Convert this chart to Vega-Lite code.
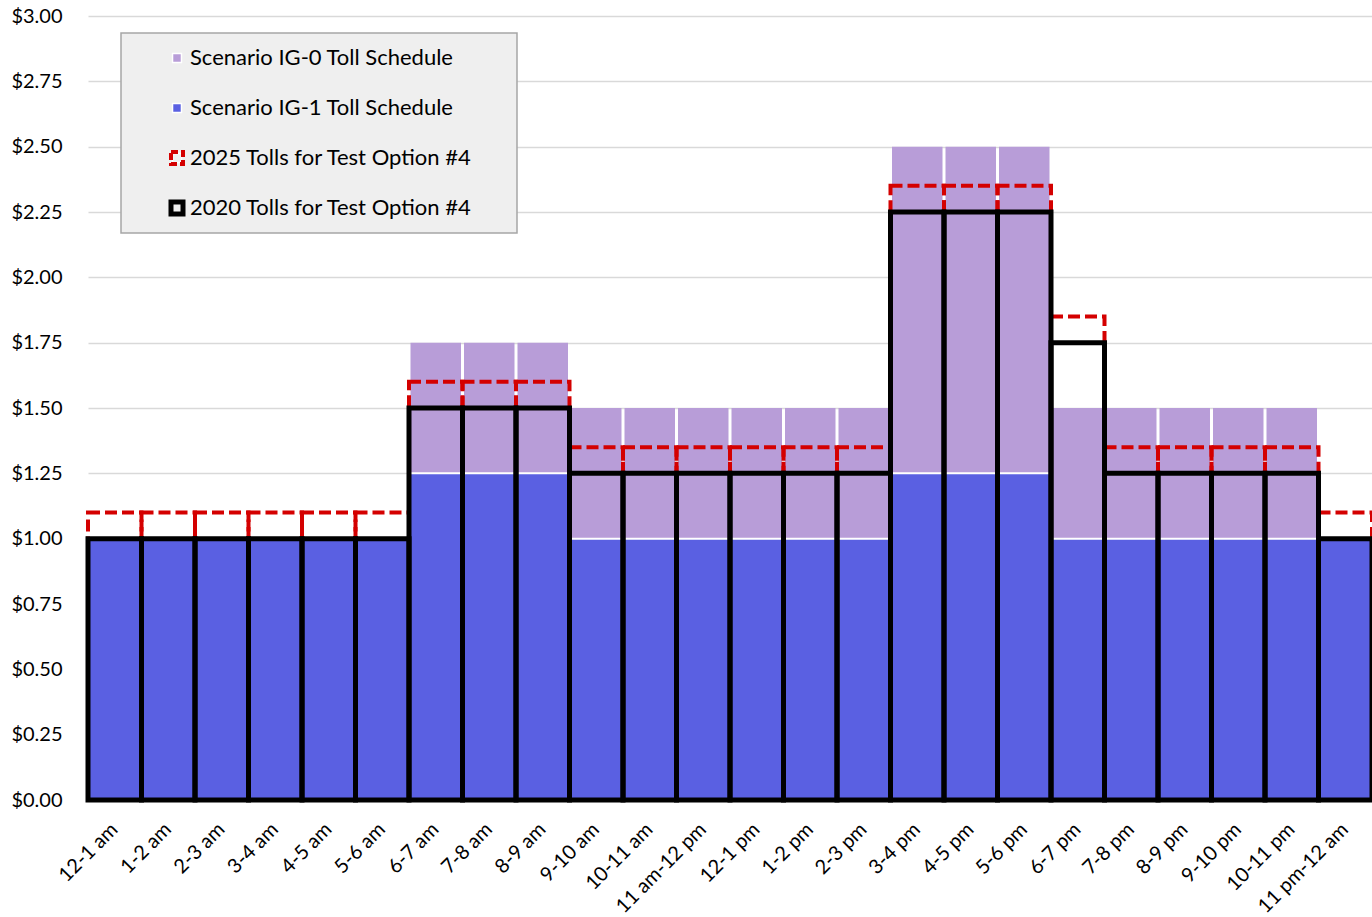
{
  "$schema": "https://vega.github.io/schema/vega-lite/v6.json",
  "autosize": {"type": "none"},
  "padding": {"left": 88, "top": 16, "right": 0, "bottom": 117},
  "width": 1284,
  "height": 784,
  "background": "white",
  "title": {"text": "Tolls for Test Option #4", "fontSize": 26, "fontWeight": "bold", "font": "Lato", "anchor": "middle", "dx": -28, "offset": 11, "color": "black"},
  "data": {"values": [
    {"hour": "12-1 am", "ig0": 1.00, "ig1": 1.00, "t2020": 1.00, "t2025": 1.10},
    {"hour": "1-2 am", "ig0": 1.00, "ig1": 1.00, "t2020": 1.00, "t2025": 1.10},
    {"hour": "2-3 am", "ig0": 1.00, "ig1": 1.00, "t2020": 1.00, "t2025": 1.10},
    {"hour": "3-4 am", "ig0": 1.00, "ig1": 1.00, "t2020": 1.00, "t2025": 1.10},
    {"hour": "4-5 am", "ig0": 1.00, "ig1": 1.00, "t2020": 1.00, "t2025": 1.10},
    {"hour": "5-6 am", "ig0": 1.00, "ig1": 1.00, "t2020": 1.00, "t2025": 1.10},
    {"hour": "6-7 am", "ig0": 1.75, "ig1": 1.25, "t2020": 1.50, "t2025": 1.60},
    {"hour": "7-8 am", "ig0": 1.75, "ig1": 1.25, "t2020": 1.50, "t2025": 1.60},
    {"hour": "8-9 am", "ig0": 1.75, "ig1": 1.25, "t2020": 1.50, "t2025": 1.60},
    {"hour": "9-10 am", "ig0": 1.50, "ig1": 1.00, "t2020": 1.25, "t2025": 1.35},
    {"hour": "10-11 am", "ig0": 1.50, "ig1": 1.00, "t2020": 1.25, "t2025": 1.35},
    {"hour": "11 am-12 pm", "ig0": 1.50, "ig1": 1.00, "t2020": 1.25, "t2025": 1.35},
    {"hour": "12-1 pm", "ig0": 1.50, "ig1": 1.00, "t2020": 1.25, "t2025": 1.35},
    {"hour": "1-2 pm", "ig0": 1.50, "ig1": 1.00, "t2020": 1.25, "t2025": 1.35},
    {"hour": "2-3 pm", "ig0": 1.50, "ig1": 1.00, "t2020": 1.25, "t2025": 1.35},
    {"hour": "3-4 pm", "ig0": 2.50, "ig1": 1.25, "t2020": 2.25, "t2025": 2.35},
    {"hour": "4-5 pm", "ig0": 2.50, "ig1": 1.25, "t2020": 2.25, "t2025": 2.35},
    {"hour": "5-6 pm", "ig0": 2.50, "ig1": 1.25, "t2020": 2.25, "t2025": 2.35},
    {"hour": "6-7 pm", "ig0": 1.50, "ig1": 1.00, "t2020": 1.75, "t2025": 1.85},
    {"hour": "7-8 pm", "ig0": 1.50, "ig1": 1.00, "t2020": 1.25, "t2025": 1.35},
    {"hour": "8-9 pm", "ig0": 1.50, "ig1": 1.00, "t2020": 1.25, "t2025": 1.35},
    {"hour": "9-10 pm", "ig0": 1.50, "ig1": 1.00, "t2020": 1.25, "t2025": 1.35},
    {"hour": "10-11 pm", "ig0": 1.50, "ig1": 1.00, "t2020": 1.25, "t2025": 1.35},
    {"hour": "11 pm-12 am", "ig0": 1.00, "ig1": 1.00, "t2020": 1.00, "t2025": 1.10}
  ]},
  "encoding": {
    "x": {
      "field": "hour", "type": "nominal", "sort": null, "title": null,
      "scale": {"paddingInner": 0, "paddingOuter": 0},
      "axis": {"labelAngle": -45, "labelAlign": "right", "labelBaseline": "middle", "labelFontSize": 20, "labelFont": "Lato", "labelColor": "black", "labelPadding": 26, "ticks": false, "domainColor": "#A6A6A6", "domainWidth": 2, "grid": false, "labelOverlap": false}
    }
  },
  "layer": [
    {
      "mark": {"type": "bar", "width": {"band": 0.944}},
      "encoding": {
        "y": {"field": "ig0", "type": "quantitative", "title": null,
          "scale": {"domain": [0, 3], "nice": false},
          "axis": {"values": [0, 0.25, 0.5, 0.75, 1, 1.25, 1.5, 1.75, 2, 2.25, 2.5, 2.75, 3], "format": "$.2f", "labelFontSize": 20, "labelFont": "Lato", "labelColor": "black", "labelPadding": 26, "ticks": false, "domain": false, "gridColor": "#D9D9D9", "gridWidth": 1.5}},
        "fill": {"datum": "Scenario IG-0 Toll Schedule", "type": "nominal", "title": null,
          "scale": {"domain": ["Scenario IG-0 Toll Schedule", "Scenario IG-1 Toll Schedule", "2025 Tolls for Test Option #4", "2020 Tolls for Test Option #4"], "range": ["#B89DD8", "#5A60E2", "transparent", "transparent"]},
          "legend": {
            "title": "\u00a0", "titleOrient": "right", "titleFontSize": 1, "titleColor": "transparent", "titlePadding": 31,
            "orient": "none", "legendX": 33, "legendY": 17,
            "padding": 14, "fillColor": "#EFEFEF", "strokeColor": "#A6A6A6",
            "rowPadding": 28, "symbolOffset": 31, "labelOffset": 2, "symbolType": "square", "symbolSize": 80,
            "labelFontSize": 22, "labelFont": "Lato", "labelColor": "black", "labelLimit": 600
          }
        }
      }
    },
    {
      "mark": {"type": "bar", "stroke": "white", "strokeWidth": 2},
      "encoding": {
        "y": {"field": "ig1", "type": "quantitative"},
        "fill": {"datum": "Scenario IG-1 Toll Schedule", "type": "nominal", "title": null}
      }
    },
    {
      "mark": {"type": "bar", "fill": "transparent", "strokeWidth": 4, "strokeDash": [12, 5]},
      "encoding": {
        "y": {"field": "t2025", "type": "quantitative"},
        "stroke": {"datum": "2025 Tolls for Test Option #4", "type": "nominal", "title": null,
          "scale": {"domain": ["2025 Tolls for Test Option #4"], "range": ["#D40000"]},
          "legend": {
            "title": null, "orient": "none", "legendX": 78, "legendY": 131, "padding": 0,
            "symbolOffset": 0, "symbolType": "square", "symbolSize": 144,
            "symbolStrokeWidth": 4, "symbolDash": [7, 3], "symbolFillColor": "transparent", "symbolStrokeColor": "#D40000",
            "labelFontSize": 22, "labelFont": "Lato", "labelExpr": "''", "labelOffset": 0
          }
        }
      }
    },
    {
      "mark": {"type": "bar", "filled": false, "fill": "transparent", "strokeWidth": 5},
      "encoding": {
        "y": {"field": "t2020", "type": "quantitative"},
        "color": {"datum": "2020 Tolls for Test Option #4", "type": "nominal", "title": null,
          "scale": {"domain": ["2020 Tolls for Test Option #4"], "range": ["#000000"]},
          "legend": {
            "title": null, "orient": "none", "legendX": 78, "legendY": 181, "padding": 0,
            "symbolOffset": 0, "symbolType": "square", "symbolSize": 144,
            "symbolStrokeWidth": 5, "symbolFillColor": "transparent", "symbolStrokeColor": "#000000",
            "labelFontSize": 22, "labelFont": "Lato", "labelExpr": "''", "labelOffset": 0
          }
        }
      }
    }
  ],
  "config": {
    "view": {"stroke": null},
    "font": "Lato",
    "legend": {"strokeWidth": 1.5}
  }
}
